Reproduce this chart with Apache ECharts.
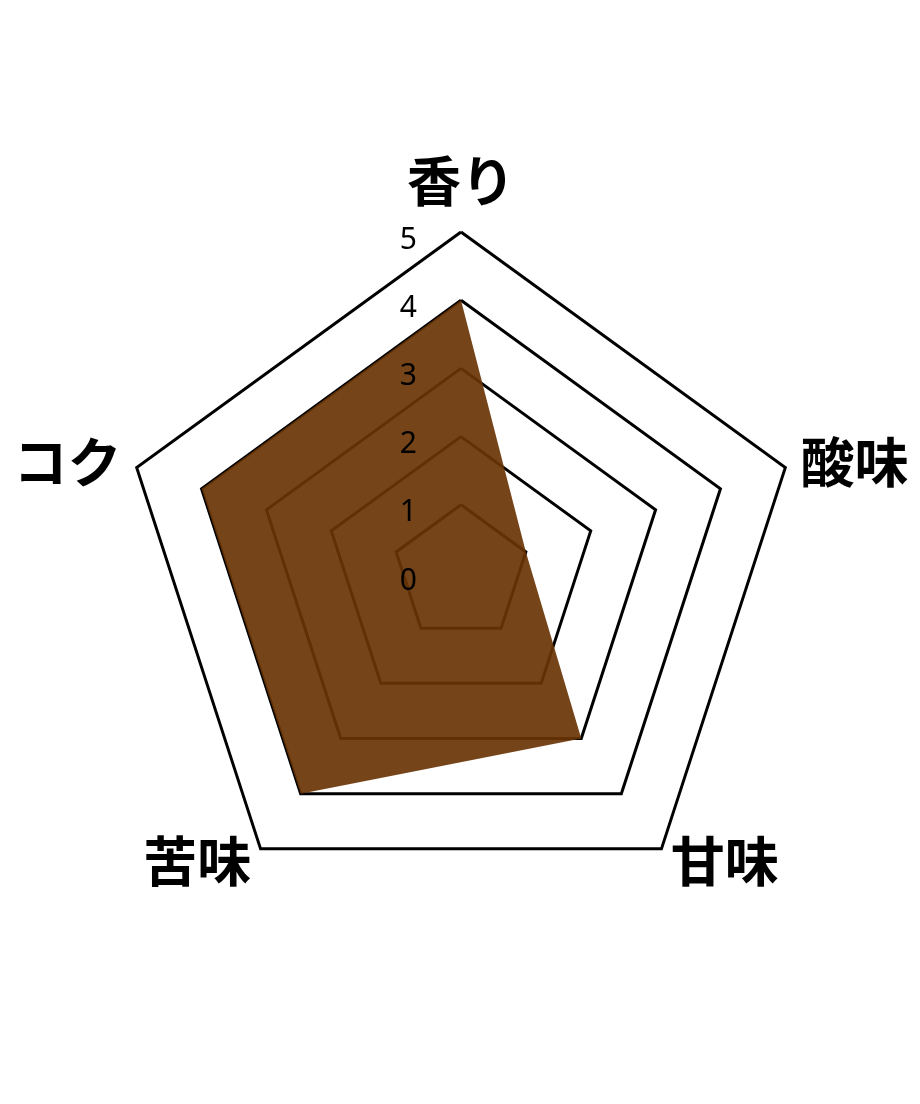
<!DOCTYPE html>
<html lang="ja">
<head>
    <meta charset="utf-8">
    <title>RADAR CHART</title>
    <style>
        html, body { margin: 0; padding: 0; background: #fff; }
        #main { width: 920px; height: 1104px; }
    </style>
</head>
<body>
    <div id="main"></div>
    <script src="https://cdn.jsdelivr.net/npm/echarts@6/dist/echarts.min.js"></script>
    <script>
    // 項目（時計回り、上から）
    var categories = ['香り', '酸味', '甘味', '苦味', 'コク'];
    var values = [4, 1, 3, 4, 4];
    var tickLabels = ['0', '1', '2', '3', '4', '5'];
    var maxValue = 5;

    var chart = echarts.init(document.getElementById('main'));

    var CENTER = [461, 573];
    var RADIUS = 341;

    // echartsのレーダーは反時計回りに並ぶので、先頭以外を逆順にする
    var order = categories.map(function (c, i) { return i === 0 ? 0 : categories.length - i; });

    function indicators(withLabel) {
        return order.map(function (idx, i) {
            var ind = { name: categories[idx], min: 0, max: maxValue };
            if (i === 0) {
                ind.nameGap = 24;
            }
            if (withLabel) {
                ind.axisLabel = { show: i === 0 };
            }
            return ind;
        });
    }

    var seriesValues = order.map(function (idx) { return values[idx]; });

    var option = {
        backgroundColor: '#fff',
        radar: [
            {
                // 罫線だけ（塗りの下）
                center: CENTER,
                radius: RADIUS,
                startAngle: 90,
                shape: 'polygon',
                splitNumber: 5,
                indicator: indicators(false),
                axisName: {
                    color: '#000',
                    fontSize: 54,
                    fontWeight: 'bold',
                    fontFamily: 'Noto Sans CJK JP'
                },
                axisNameGap: 16,
                axisLine: { show: false },
                axisTick: { show: false },
                axisLabel: { show: false },
                splitArea: { show: false },
                splitLine: { lineStyle: { color: '#000', width: 3 } },
                z: 0
            },
            {
                // 目盛りの数字（塗りの上）
                center: CENTER,
                radius: RADIUS,
                startAngle: 90,
                shape: 'polygon',
                splitNumber: 5,
                indicator: indicators(true),
                axisName: { show: false },
                axisLine: { show: false },
                axisTick: { show: false },
                axisLabel: {
                    show: false,
                    showMinLabel: true,
                    color: '#000',
                    fontSize: 30,
                    fontFamily: 'Noto Sans',
                    margin: 44,
                    verticalAlign: 'top',
                    lineHeight: 16,
                    formatter: function (v) { return tickLabels[v] != null ? tickLabels[v] : v; }
                },
                splitArea: { show: false },
                splitLine: { show: false },
                z: 10
            }
        ],
        series: [{
            type: 'radar',
            radarIndex: 0,
            symbol: 'none',
            lineStyle: { width: 0, opacity: 0 },
            areaStyle: { color: 'rgba(105, 52, 5, 0.92)', opacity: 1 },
            data: [{ value: seriesValues, name: 'coffee' }]
        }]
    };

    chart.setOption(option);
    </script>
</body>
</html>
